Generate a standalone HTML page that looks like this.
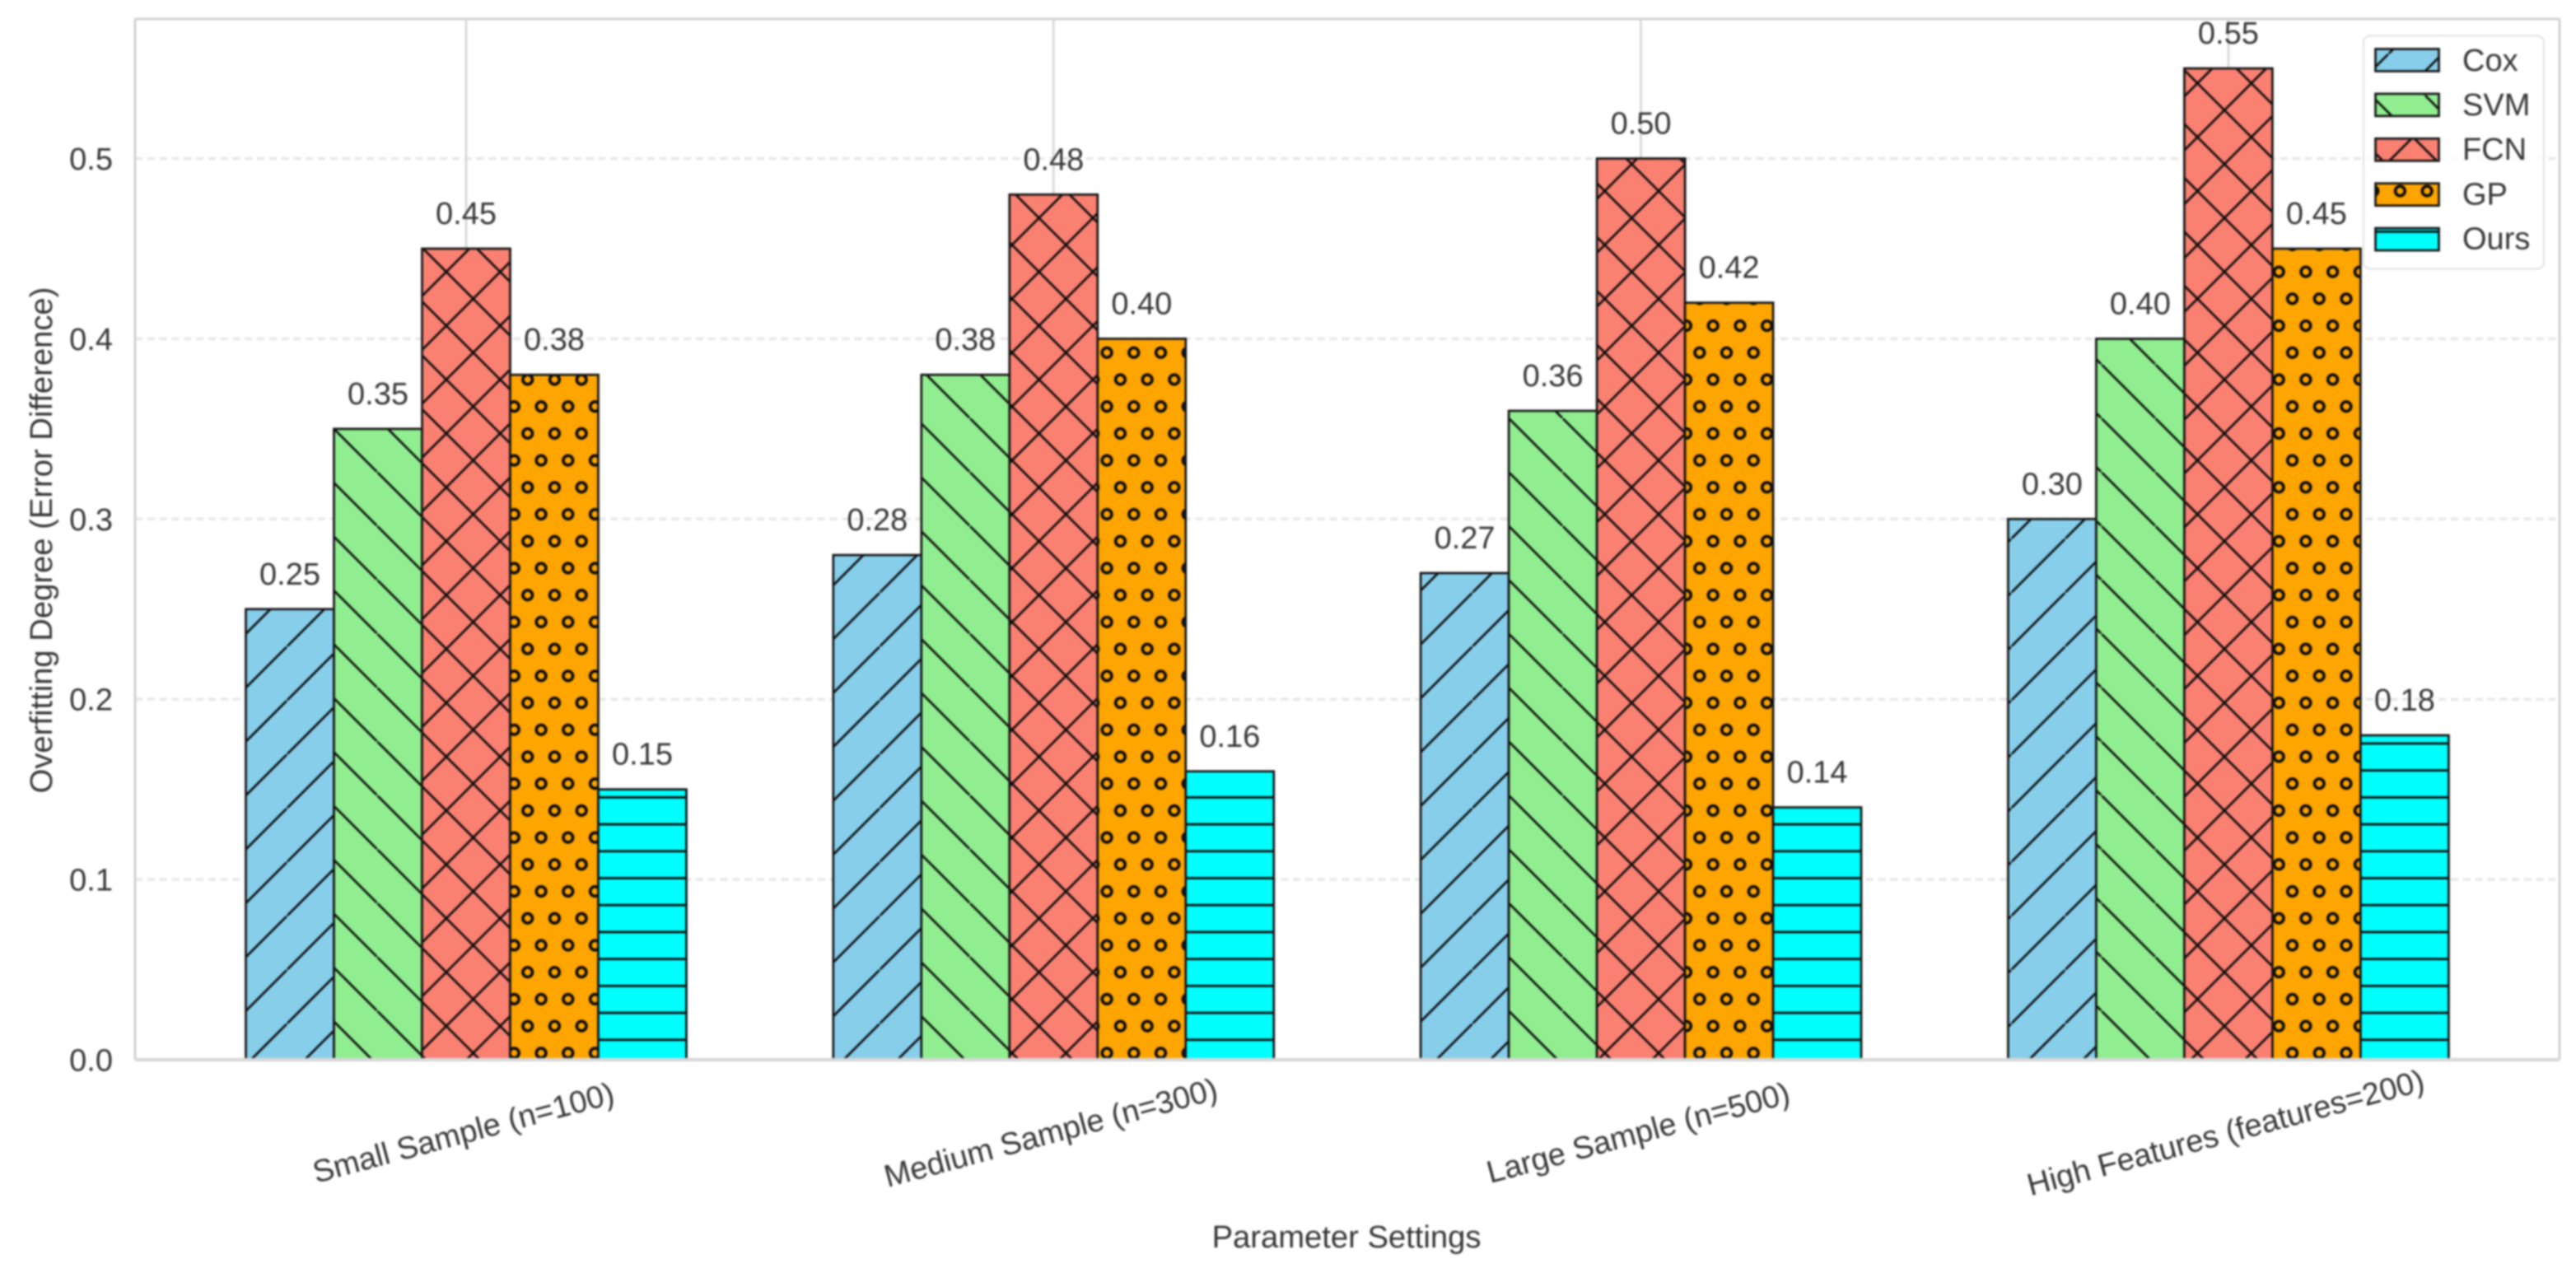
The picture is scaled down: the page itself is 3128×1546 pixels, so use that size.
<!DOCTYPE html>
<html>
<head>
<meta charset="utf-8">
<title>Overfitting Degree Chart</title>
<style>
html,body{margin:0;padding:0;background:#fff;}
svg{display:block;}
text{font-family:"Liberation Sans",Arial,sans-serif;fill:#363636;}
</style>
</head>
<body>
<svg id="chart" xmlns="http://www.w3.org/2000/svg" width="3128" height="1546" viewBox="0 0 3128 1546">
  <defs>
    <filter id="soft" filterUnits="userSpaceOnUse" x="0" y="0" width="3128" height="1546" color-interpolation-filters="sRGB">
      <feGaussianBlur stdDeviation="1.05"/>
    </filter>
    <pattern id="hatch-fwd" patternUnits="userSpaceOnUse" width="65.43" height="65.43" patternTransform="translate(21.4,0)">
      <line x1="-5" y1="70.43" x2="70.43" y2="-5" stroke="#0c0c0c" stroke-width="2.7"/>
    </pattern>
    <pattern id="hatch-back" patternUnits="userSpaceOnUse" width="65.43" height="65.43" patternTransform="translate(0,49.94)">
      <line x1="-5" y1="-5" x2="70.43" y2="70.43" stroke="#0c0c0c" stroke-width="2.7"/>
    </pattern>
    <pattern id="hatch-cross" patternUnits="userSpaceOnUse" width="65.43" height="65.43" patternTransform="translate(541.9,722.7)">
      <g stroke="#0c0c0c" stroke-width="2.7">
        <line x1="-5" y1="70.43" x2="70.43" y2="-5"/>
        <line x1="-32.7" y1="32.7" x2="32.7" y2="-32.7"/>
        <line x1="32.7" y1="98.15" x2="98.15" y2="32.7"/>
        <line x1="-5" y1="-5" x2="70.43" y2="70.43"/>
        <line x1="32.7" y1="-32.7" x2="98.15" y2="32.7"/>
        <line x1="-32.7" y1="32.7" x2="32.7" y2="98.15"/>
      </g>
    </pattern>
    <pattern id="hatch-ring" patternUnits="userSpaceOnUse" width="32.715" height="65.43" patternTransform="translate(640.7,722.7)">
      <g fill="none" stroke="#0a0a0a" stroke-width="3.7">
        <circle cx="0" cy="0" r="5.8"/>
        <circle cx="32.715" cy="0" r="5.8"/>
        <circle cx="0" cy="65.43" r="5.8"/>
        <circle cx="32.715" cy="65.43" r="5.8"/>
        <circle cx="16.36" cy="32.715" r="5.8"/>
      </g>
    </pattern>
    <pattern id="hatch-line" patternUnits="userSpaceOnUse" width="65.43" height="32.715" patternTransform="translate(0,1066.5)">
      <rect x="0" y="-1.4" width="65.43" height="2.8" fill="#0c0c0c"/>
      <rect x="0" y="31.3" width="65.43" height="2.8" fill="#0c0c0c"/>
    </pattern>
  </defs>
  <g id="root" filter="url(#soft)"></g>
</svg>
<script>
const categories = ["Small Sample (n=100)", "Medium Sample (n=300)", "Large Sample (n=500)", "High Features (features=200)"];
const seriesNames = ["Cox", "SVM", "FCN", "GP", "Ours"];
const coxValues = [0.25, 0.28, 0.27, 0.30];
const svmValues = [0.35, 0.38, 0.36, 0.40];
const fcnValues = [0.45, 0.48, 0.50, 0.55];
const gpValues = [0.38, 0.40, 0.42, 0.45];
const oursValues = [0.15, 0.16, 0.14, 0.18];
const yTickValues = [0, 0.1, 0.2, 0.3, 0.4, 0.5];
const seriesColors = ["#87CEEB", "#90EE90", "#FA8072", "#FFA500", "#00FFFF"];
const seriesHatches = ["hatch-fwd", "hatch-back", "hatch-cross", "hatch-ring", "hatch-line"];

const allSeries = [coxValues, svmValues, fcnValues, gpValues, oursValues];
const NS = "http://www.w3.org/2000/svg";
const root = document.getElementById("root");
const plot = {left: 164, right: 3108, top: 23, bottom: 1287};
const barWidth = 107;
function xGroup(i) { return 566 + 713.3 * i; }
function xBar(g, s) { return xGroup(g) + (s - 2.5) * barWidth; }
function yScale(v) { return plot.bottom - v * 2189; }
function mk(tag, attrs, parent) {
  const el = document.createElementNS(NS, tag);
  for (const k in attrs) el.setAttribute(k, attrs[k]);
  (parent || root).appendChild(el);
  return el;
}

// Horizontal dashed grid
yTickValues.forEach(function (v) {
  if (v === 0) return;
  const l = mk("line", {x1: plot.left, x2: plot.right, y1: yScale(v), y2: yScale(v), stroke: "#e8e8e8", "stroke-width": 3.4, "stroke-dasharray": "9.2 5.6"});
  
  
});
// Vertical grid
categories.forEach(function (c, i) {
  const l = mk("line", {x1: xGroup(i), x2: xGroup(i), y1: plot.top, y2: plot.bottom, stroke: "#d8d8d8", "stroke-width": 2.8});
  
  
});
// Bars
allSeries.forEach(function (vals, s) {
  vals.forEach(function (v, g) {
    const y = yScale(v);
    const bg = mk("rect", {x: xBar(g, s), y: y, width: barWidth, height: plot.bottom - y, fill: seriesColors[s]});
    
    
    const b = mk("rect", {x: xBar(g, s), y: y, width: barWidth, height: plot.bottom - y, fill: "url(#" + seriesHatches[s] + ")", stroke: "#141414", "stroke-width": 2.7});
    
    
  });
});
// Value labels
allSeries.forEach(function (vals, s) {
  vals.forEach(function (v, g) {
    const t = mk("text", {x: xBar(g, s) + barWidth / 2, y: yScale(v) - 30, "text-anchor": "middle", "font-size": 38});
    t.textContent = v.toFixed(2);
    
    
  });
});
// Spines
[
  [plot.left, plot.top, plot.left, plot.bottom, 2.8, "#cfcfcf"],
  [plot.right, plot.top, plot.right, plot.bottom, 2.8, "#cfcfcf"],
  [plot.left, plot.top, plot.right, plot.top, 2.8, "#cfcfcf"],
  [plot.left, plot.bottom, plot.right, plot.bottom, 4.3, "#d8d8d8"]
].forEach(function (d) {
  const l = mk("line", {x1: d[0], y1: d[1], x2: d[2], y2: d[3], "stroke-width": d[4], stroke: d[5]});
  
  
});
// Y ticks
yTickValues.forEach(function (v) {
  const t = mk("text", {x: 137, y: yScale(v) + 13.5, "text-anchor": "end", "font-size": 38});
  t.textContent = v.toFixed(1);
  
  
});
// X ticks
categories.forEach(function (c, i) {
  const cx = xGroup(i);
  const t = mk("text", {x: 0, y: 0, "text-anchor": "middle", "font-size": 38, transform: "translate(" + cx + ",1388) rotate(-15)"});
  t.textContent = c;
  
  
});
// Axis titles
const xTitle = mk("text", {x: 1635, y: 1515, "text-anchor": "middle", "font-size": 38.2});
xTitle.textContent = "Parameter Settings";


const yTitle = mk("text", {x: 0, y: 0, "text-anchor": "middle", "font-size": 38.2, transform: "translate(63,656) rotate(-90)"});
yTitle.textContent = "Overfitting Degree (Error Difference)";


// Legend
const legend = mk("g", {});


const legendBox = mk("rect", {x: 2870, y: 43.5, width: 219, height: 283, rx: 8, fill: "#fff", "fill-opacity": 0.8, stroke: "#e2e2e2", "stroke-width": 2}, legend);


seriesNames.forEach(function (name, s) {
  const top = 59.5 + 54.4 * s;
  const sw = mk("rect", {x: 2884.5, y: top, width: 77, height: 27, fill: seriesColors[s]}, legend);
  
  
  const sh = mk("rect", {x: 2884.5, y: top, width: 77, height: 27, fill: "url(#" + seriesHatches[s] + ")", stroke: "#141414", "stroke-width": 2.7}, legend);
  
  
  const t = mk("text", {x: 2990, y: 86 + 54.1 * s, "font-size": 38}, legend);
  t.textContent = name;
  
  
});
</script>
</body>
</html>
